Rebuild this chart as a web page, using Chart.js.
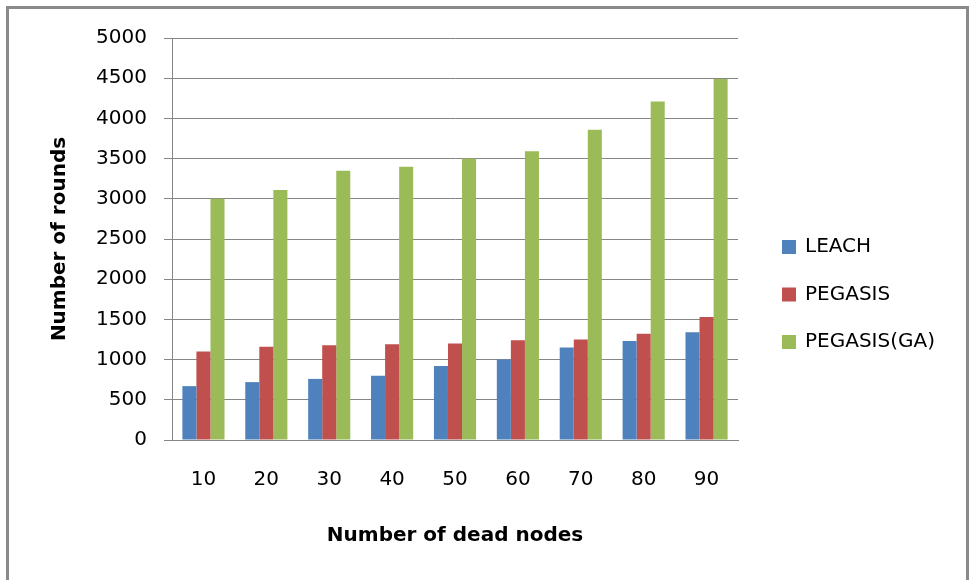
<!DOCTYPE html>
<html>
<head>
<meta charset="utf-8">
<script src="https://cdn.jsdelivr.net/npm/chart.js@4"></script>
<style>
  html, body { margin: 0; padding: 0; background: #fff; overflow: hidden; }
  #wrap { position: relative; width: 970px; height: 580px; }
  #frame { position: absolute; left: 6px; top: 6px; width: 963px; height: 600px;
           box-sizing: border-box; border: 3px solid #8a8a8a; pointer-events: none; }
</style>
</head>
<body>
<div id="wrap">
  <canvas id="chart"></canvas>
  <div id="frame"></div>
</div>
<script>
// valores
const deadNodes = ['10', '20', '30', '40', '50', '60', '70', '80', '90'];
const leach = [670, 720, 760, 800, 920, 1000, 1150, 1230, 1340];
const pegasis = [1100, 1160, 1180, 1190, 1200, 1240, 1250, 1320, 1530];
const pegasisGA = [3000, 3110, 3350, 3400, 3500, 3590, 3860, 4210, 4490];
const seriesNames = ['LEACH', 'PEGASIS', 'PEGASIS(GA)'];
const seriesColors = ['#4F81BD', '#C0504D', '#9BBB59'];

const gridColor = '#868686';
const font = 'DejaVu Sans';

// leyenda a la derecha, dibujada a mano
const sideLegend = {
  id: 'sideLegend',
  afterDraw(chart) {
    const ctx = chart.ctx;
    const x = chart.chartArea.right + 44;
    ctx.save();
    ctx.font = '20px "' + font + '"';
    ctx.textBaseline = 'middle';
    ctx.textAlign = 'left';
    chart.data.datasets.forEach((ds, i) => {
      const y = 247 + i * 47.5;
      ctx.fillStyle = ds.backgroundColor;
      ctx.fillRect(x, y - 7, 14, 14);
      ctx.fillStyle = '#000';
      ctx.fillText(ds.label, x + 23, y);
    });
    ctx.restore();
  }
};

const datasets = [leach, pegasis, pegasisGA].map((values, i) => ({
  label: seriesNames[i],
  data: values,
  backgroundColor: seriesColors[i],
  borderWidth: 0,
  categoryPercentage: 0.67,
  barPercentage: 1.0
}));

new Chart(document.getElementById('chart'), {
  type: 'bar',
  data: { labels: deadNodes, datasets: datasets },
  options: {
    responsive: true,
    maintainAspectRatio: false,
    animation: false,
    layout: { padding: { left: 44, top: 38, right: 232, bottom: 28 } },
    plugins: {
      legend: { display: false },
      tooltip: { enabled: false }
    },
    scales: {
      x: {
        grid: { display: false, drawTicks: false },
        border: { color: gridColor, width: 1 },
        ticks: { color: '#000', font: { family: font, size: 20 }, padding: 28, maxRotation: 0 },
        title: { display: true, text: 'Number of dead nodes', color: '#000',
                 font: { family: font, size: 20, weight: 'bold' } },
        afterFit(scale) { scale.height = 112; }
      },
      y: {
        min: 0,
        max: 5000,
        ticks: {
          stepSize: 500, color: '#000', font: { family: font, size: 20 }, padding: 17,
          callback: (v) => String(v)
        },
        grid: { color: gridColor, lineWidth: 1, tickLength: 8 },
        border: { color: gridColor, width: 1 },
        title: { display: true, text: 'Number of rounds', color: '#000',
                 font: { family: font, size: 20, weight: 'bold' } },
        afterFit(scale) { scale.width = 128; }
      }
    }
  },
  plugins: [sideLegend]
});
</script>
</body>
</html>
